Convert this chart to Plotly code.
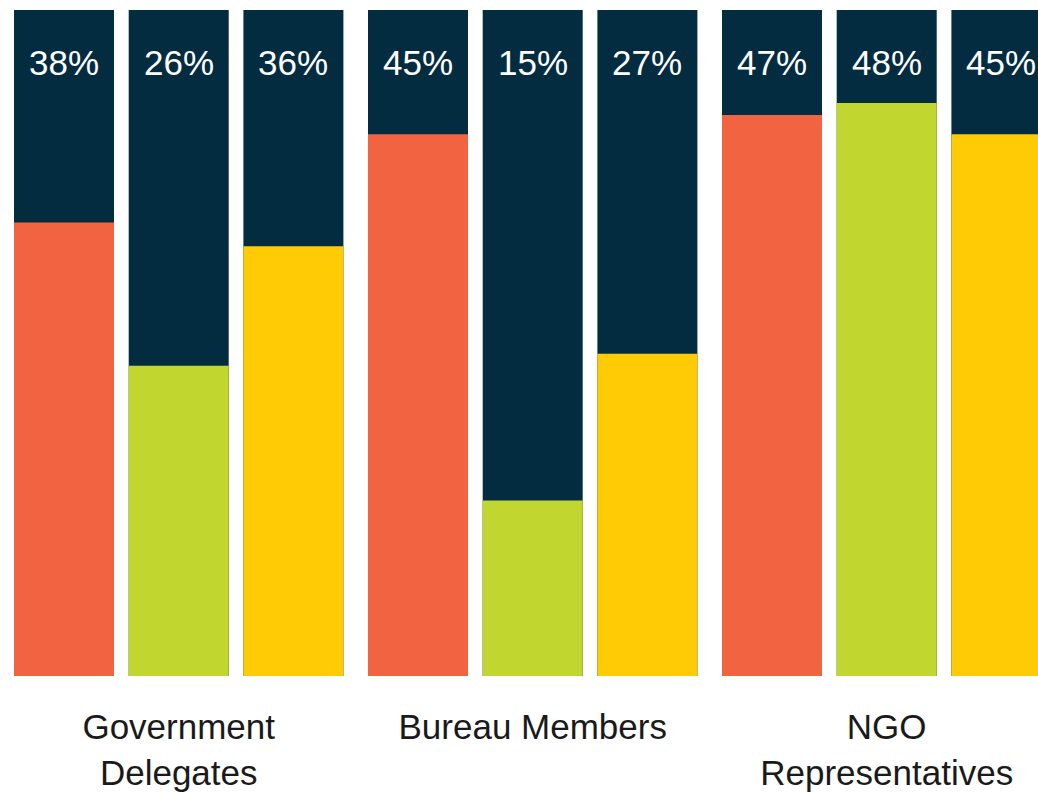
import plotly.graph_objects as go

# ---- data ----
groups = ["Government<br>Delegates", "Bureau Members", "NGO<br>Representatives"]
series_a = [38, 45.4, 47]   # orange bars
series_b = [26, 14.7, 48]   # green bars
series_c = [36, 27, 45.4]   # yellow bars
scale_max = 55.8            # top of the dark background bars

# ---- styling / layout ----
colors = ["#f26341", "#c1d72f", "#ffcb05"]
navy = "#032c41"
first_center = 64
bar_step = 114.7
group_step = 354
bar_width = 100
fig_w, fig_h = 1038, 792

series = [series_a, series_b, series_c]

fig = go.Figure()
xs_all, vals_all = [], []
for i, (vals, col) in enumerate(zip(series, colors)):
    xs = [first_center + g * group_step + i * bar_step for g in range(len(groups))]
    xs_all += xs
    vals_all += vals
    fig.add_trace(go.Bar(x=xs, y=[scale_max] * len(xs), width=bar_width,
                         marker=dict(color=navy, line=dict(width=0)),
                         showlegend=False, hoverinfo="skip"))
    fig.add_trace(go.Bar(x=xs, y=vals, width=bar_width,
                         marker=dict(color=col, line=dict(width=0)),
                         showlegend=False))

for x, v in zip(xs_all, vals_all):
    fig.add_annotation(x=x, y=1, xref="x", yref="paper", yanchor="middle",
                       yshift=-52, text=f"{v:.0f}%", showarrow=False,
                       font=dict(family="Liberation Sans, Arial", size=35, color="white"))

tick_centers = [first_center + bar_step + g * group_step for g in range(len(groups))]

fig.update_layout(
    width=fig_w, height=fig_h,
    margin=dict(l=0, r=0, t=10, b=116),
    barmode="overlay",
    plot_bgcolor="white", paper_bgcolor="white",
    xaxis=dict(range=[0, fig_w], tickvals=tick_centers, ticktext=groups,
               showgrid=False, zeroline=False, showline=False,
               ticks="outside", ticklen=20, tickcolor="rgba(0,0,0,0)",
               tickfont=dict(family="Liberation Sans, Arial", size=35, color="#1a1a1a")),
    yaxis=dict(range=[0, scale_max], visible=False, showgrid=False, zeroline=False),
)

fig.write_html("out.html", config={"displayModeBar": False},
               post_script="document.body.style.margin='0';document.body.style.overflow='hidden';")
